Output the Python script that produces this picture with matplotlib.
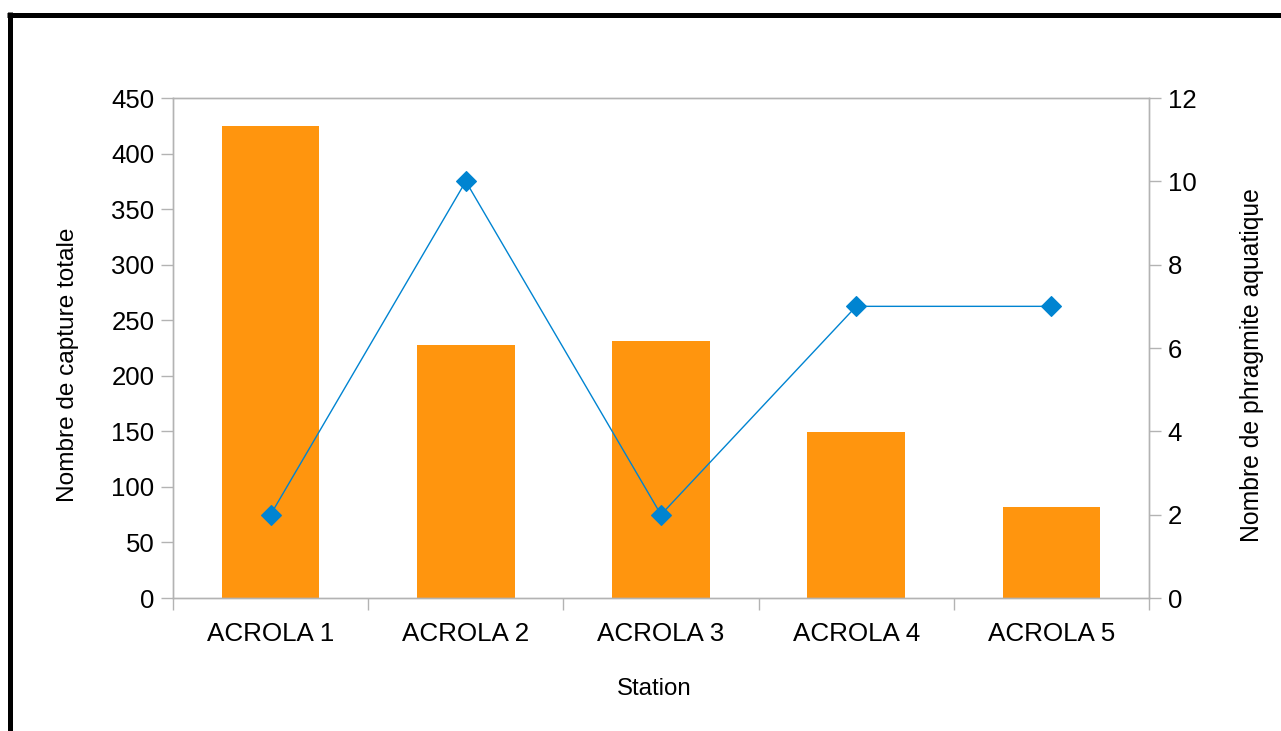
import matplotlib
matplotlib.use("Agg")
import matplotlib.pyplot as plt
from matplotlib.lines import Line2D
import numpy as np

plt.rcParams['font.family'] = ['Liberation Sans', 'DejaVu Sans']

stations = ["ACROLA 1", "ACROLA 2", "ACROLA 3", "ACROLA 4", "ACROLA 5"]
captures = [425, 228, 231, 149, 82]
phragmites = [2, 10, 2, 7, 7]
left_ticks = [0, 50, 100, 150, 200, 250, 300, 350, 400, 450]
right_ticks = [0, 2, 4, 6, 8, 10, 12]

W, H = 1281, 731
fig = plt.figure(figsize=(W / 100, H / 100), dpi=100)
ax = fig.add_axes([173 / W, (H - 598) / H, 976 / W, 500 / H])

grey = '#b3b3b3'
x = np.arange(len(stations))
ax.bar(x, captures, width=0.5, color='#FF950E', zorder=2)
ax.set_xlim(-0.5, len(stations) - 0.5)
ax.set_ylim(0, 450)
ax.set_yticks(left_ticks)
ax.set_xticks(x)
ax.set_xticklabels(stations)
ax.set_xticks(np.arange(len(stations) + 1) - 0.5, minor=True)
ax.tick_params(axis='x', which='major', length=0, pad=17.5, labelsize=18.7)
ax.tick_params(axis='x', which='minor', length=8.5, width=1, color=grey, direction='out')
ax.tick_params(axis='y', length=8.5, width=1, color=grey, pad=5, labelsize=18.5)
for s in ax.spines.values():
    s.set_color(grey)
    s.set_linewidth(1)
ax.set_xlabel("Station", fontsize=17.3, labelpad=23)
ax.xaxis.label.set_x(0.4928)
ax.set_ylabel("Nombre de capture totale", fontsize=17.6, labelpad=23)
ax.yaxis.label.set_y(0.466)

ax2 = ax.twinx()
ax2.plot(x, phragmites, color='#0084D1', linewidth=1, marker='D', markersize=10.5,
         markeredgewidth=0.8, zorder=3)
ax2.set_ylim(0, 12)
ax2.set_yticks(right_ticks)
ax2.tick_params(axis='y', length=8.5, width=1, color=grey, pad=5, labelsize=18.5)
for s in ax2.spines.values():
    s.set_color(grey)
    s.set_linewidth(1)
ax2.set_ylabel("Nombre de phragmite aquatique", fontsize=17.8, labelpad=31)
ax2.yaxis.label.set_y(0.466)

# outer black border (top and left visible)
lw = 5 * 72 / 100
fig.add_artist(Line2D([7 / W, 1.0], [1 - 14.5 / H, 1 - 14.5 / H], color='black', linewidth=lw,
                      transform=fig.transFigure, solid_capstyle='butt'))
fig.add_artist(Line2D([9.5 / W, 9.5 / W], [0, 1 - 12 / H], color='black', linewidth=lw,
                      transform=fig.transFigure, solid_capstyle='butt'))

fig.savefig("out.png", dpi=100)
